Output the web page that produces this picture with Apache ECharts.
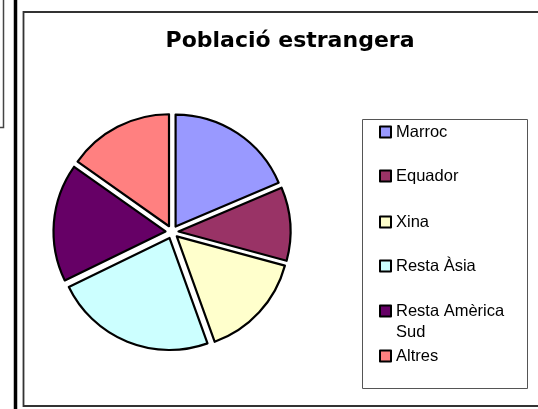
<!DOCTYPE html>
<html>
<head>
<meta charset="utf-8">
<script src="https://cdn.jsdelivr.net/npm/echarts@6/dist/echarts.min.js"></script>
<style>
  html, body { margin: 0; padding: 0; background: #fff; }
  #chart { width: 538px; height: 409px; }
</style>
</head>
<body>
<div id="chart"></div>
<script>
// chart data (percent of the pie)
var categories = ['Marroc', 'Equador', 'Xina', 'Resta Àsia', 'Resta Amèrica Sud', 'Altres'];
var values = [18.6, 10.6, 15.3, 23.3, 17.0, 15.2];
var palette = ['#9999FF', '#993366', '#FFFFCC', '#CCFFFF', '#660066', '#FF8080'];

// vertical centre of each legend entry's first line
var legendRows = [132, 176, 222, 266, 311, 356];

var myChart = echarts.init(document.getElementById('chart'), null, {renderer: 'canvas'});

var legends = categories.map(function (name, i) {
    var twoLines = name === 'Resta Amèrica Sud';
    return {
        data: [name],
        orient: 'vertical',
        left: 379,
        top: twoLines ? legendRows[i] - 31.5 : legendRows[i] - 10.5,
        padding: 0,
        itemWidth: 11,
        itemHeight: 11,
        selectedMode: false,
        icon: 'rect',
        itemStyle: {borderColor: '#000', borderWidth: 2},
        // a blank first line keeps the icon level with "Resta Amèrica"
        formatter: function (n) { return n === 'Resta Amèrica Sud' ? ' \nResta Amèrica\nSud' : n; },
        textStyle: {fontFamily: 'Liberation Sans', fontSize: 16.5, color: '#000', lineHeight: 21}
    };
});

var option = {
    animation: false,
    color: palette,
    title: {
        text: 'Població estrangera',
        left: 285,
        textAlign: 'center',
        top: 25,
        textStyle: {fontFamily: 'DejaVu Sans', fontWeight: 'bold', fontSize: 22, color: '#000'}
    },
    legend: legends,
    graphic: [
        // small box cut off at the left
        {type: 'rect', shape: {x: -10, y: -10, width: 13.5, height: 137.5}, style: {fill: 'none', stroke: '#444', lineWidth: 1.5}},
        // thick rule
        {type: 'line', shape: {x1: 15.5, y1: 0, x2: 15.5, y2: 409}, style: {stroke: '#000', lineWidth: 3.5}},
        // chart frame
        {type: 'rect', shape: {x: 23.5, y: 12, width: 530, height: 394}, style: {fill: 'none', stroke: '#333', lineWidth: 1.8}},
        // legend box
        {type: 'rect', shape: {x: 362.5, y: 119.5, width: 165, height: 269}, style: {fill: 'none', stroke: '#555', lineWidth: 1}}
    ],
    series: [{
        type: 'pie',
        center: [172, 232],
        radius: 112,
        startAngle: 90,
        clockwise: true,
        selectedMode: 'multiple',
        selectedOffset: 6.5,
        label: {show: false},
        labelLine: {show: false},
        itemStyle: {borderColor: '#000', borderWidth: 2.2},
        emphasis: {disabled: true},
        select: {itemStyle: {borderColor: '#000', borderWidth: 2.2}},
        data: categories.map(function (c, i) {
            return {name: c, value: values[i], selected: true};
        })
    }]
};

myChart.setOption(option);
</script>
</body>
</html>
